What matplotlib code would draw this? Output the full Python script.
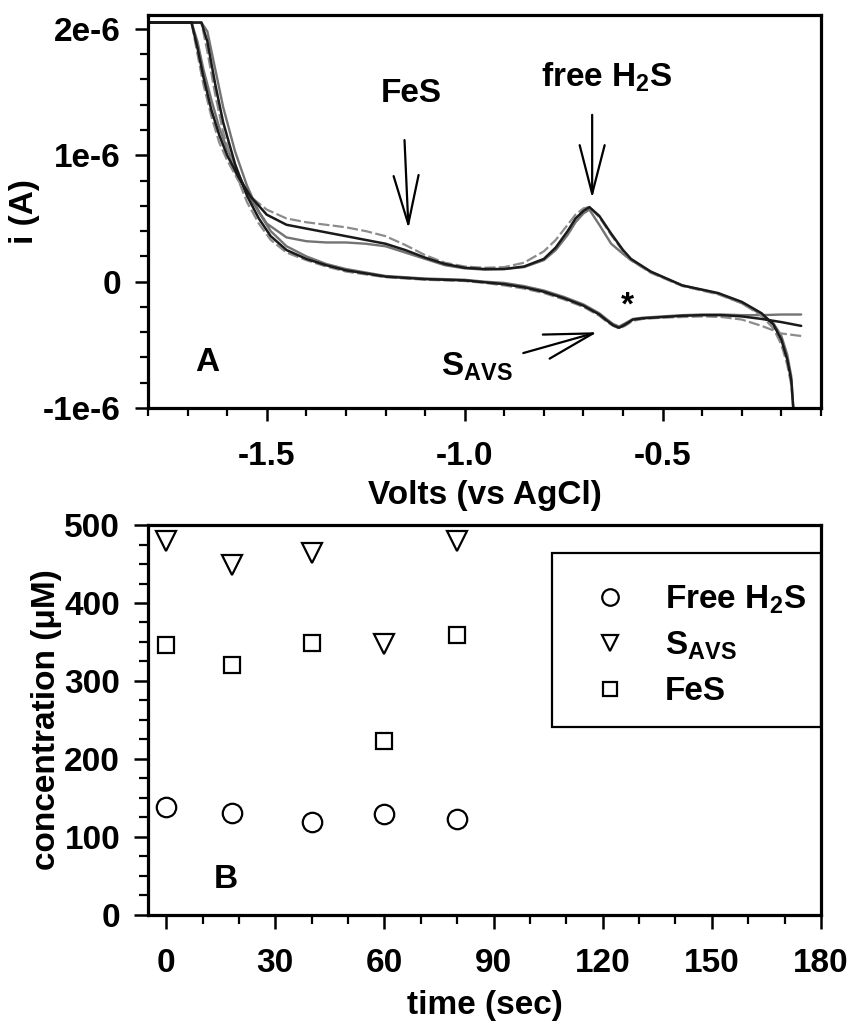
import matplotlib
matplotlib.use("Agg")
import matplotlib.pyplot as plt
from matplotlib.patches import Rectangle
import numpy as np

plt.rcParams['font.family'] = ['Liberation Sans', 'DejaVu Sans']
plt.rcParams['font.weight'] = 'bold'
plt.rcParams['axes.labelweight'] = 'bold'
plt.rcParams['mathtext.fontset'] = 'custom'
plt.rcParams['mathtext.rm'] = 'Liberation Sans:bold'
plt.rcParams['mathtext.it'] = 'Liberation Sans:bold'
plt.rcParams['mathtext.bf'] = 'Liberation Sans:bold'

# ---- panel A: cyclic voltammograms (current in uA) ----
# scan toward negative potential
v_cath = [-0.15, -0.20, -0.25, -0.30, -0.35, -0.40, -0.45, -0.50, -0.55, -0.575,
          -0.595, -0.61, -0.625, -0.64, -0.66, -0.70, -0.75, -0.80, -0.85, -0.90,
          -0.95, -1.00, -1.10, -1.20, -1.30, -1.35, -1.40, -1.45, -1.49, -1.52,
          -1.55, -1.58, -1.61, -1.63, -1.65, -1.665, -1.80]
scan1_cath = [-0.35, -0.32, -0.295, -0.275, -0.265, -0.265, -0.27, -0.28, -0.29, -0.30,
              -0.34, -0.365, -0.345, -0.31, -0.26, -0.19, -0.13, -0.08, -0.045, -0.02,
              -0.005, 0.01, 0.02, 0.04, 0.09, 0.13, 0.18, 0.25, 0.36, 0.50,
              0.68, 0.93, 1.26, 1.56, 1.90, 2.05, 2.05]
scan2_cath = [-0.26, -0.26, -0.265, -0.265, -0.26, -0.26, -0.265, -0.275, -0.285, -0.295,
              -0.33, -0.355, -0.335, -0.30, -0.25, -0.18, -0.12, -0.07, -0.035, -0.01,
              0.00, 0.015, 0.025, 0.045, 0.10, 0.14, 0.20, 0.28, 0.40, 0.55,
              0.76, 1.03, 1.38, 1.68, 1.98, 2.05, 2.05]
scan3_cath = [-0.43, -0.41, -0.35, -0.30, -0.28, -0.275, -0.28, -0.285, -0.295, -0.31,
              -0.35, -0.37, -0.35, -0.32, -0.27, -0.20, -0.14, -0.09, -0.055, -0.03,
              -0.01, 0.005, 0.015, 0.035, 0.08, 0.12, 0.17, 0.23, 0.33, 0.46,
              0.63, 0.87, 1.18, 1.48, 1.82, 2.05, 2.05]

# return scan toward positive potential
v_anod = [-1.80, -1.69, -1.675, -1.66, -1.64, -1.62, -1.60, -1.57, -1.54, -1.50,
          -1.45, -1.40, -1.35, -1.30, -1.25, -1.20, -1.15, -1.10, -1.05, -1.00,
          -0.95, -0.90, -0.85, -0.80, -0.77, -0.74, -0.72, -0.70, -0.685, -0.66,
          -0.63, -0.60, -0.58, -0.55, -0.53, -0.45, -0.36, -0.30, -0.25, -0.22,
          -0.20, -0.185, -0.175, -0.17]
scan1_anod = [2.05, 2.05, 1.85, 1.62, 1.36, 1.16, 1.00, 0.82, 0.67, 0.53,
              0.45, 0.42, 0.39, 0.36, 0.33, 0.30, 0.25, 0.19, 0.14, 0.11,
              0.10, 0.10, 0.12, 0.18, 0.27, 0.40, 0.50, 0.56, 0.59, 0.52,
              0.38, 0.25, 0.18, 0.12, 0.08, -0.03, -0.09, -0.16, -0.25, -0.34,
              -0.46, -0.62, -0.78, -1.00]
scan2_anod = [2.05, 2.05, 1.90, 1.68, 1.44, 1.22, 1.05, 0.84, 0.65, 0.46,
              0.35, 0.32, 0.31, 0.31, 0.30, 0.28, 0.23, 0.18, 0.13, 0.105,
              0.095, 0.10, 0.115, 0.17, 0.25, 0.37, 0.47, 0.54, 0.57, 0.45,
              0.30, 0.22, 0.17, 0.115, 0.075, -0.03, -0.095, -0.17, -0.26, -0.33,
              -0.43, -0.58, -0.75, -1.00]
scan3_anod = [2.05, 2.05, 1.80, 1.56, 1.31, 1.10, 0.96, 0.79, 0.67, 0.57,
              0.50, 0.47, 0.45, 0.43, 0.40, 0.36, 0.29, 0.21, 0.15, 0.12,
              0.11, 0.115, 0.15, 0.24, 0.33, 0.45, 0.53, 0.58, 0.59, 0.51,
              0.37, 0.24, 0.17, 0.11, 0.07, -0.035, -0.10, -0.17, -0.27, -0.37,
              -0.50, -0.66, -0.82, -1.00]

# ---- panel B: concentrations (uM) vs time ----
t_sec = [0, 18, 40, 60, 80]
free_h2s = [139, 131, 119, 129, 123]
s_avs = [480, 449, 464, 348, 479]
fes = [346, 321, 349, 223, 359]

FS = 24

fig = plt.figure(figsize=(8.49, 10.26), dpi=100)
ax1 = fig.add_axes([0.1743, 0.6023, 0.7927, 0.3831])
ax2 = fig.add_axes([0.1743, 0.1082, 0.7927, 0.3801])

scans = [
    (scan2_cath, scan2_anod, dict(color='0.45', lw=1.7, ls='-')),
    (scan3_cath, scan3_anod, dict(color='0.55', lw=1.6, ls=(0, (5, 1.5)))),
    (scan1_cath, scan1_anod, dict(color='0.1', lw=1.8, ls='-')),
]
for cath, anod, style in scans:
    v = np.array(v_cath + v_anod)
    i = np.array(cath + anod) * 1e-6
    ax1.plot(v, i, solid_capstyle='round', **style)

ax1.set_xlim(-1.8, -0.1)
ax1.set_ylim(-1e-6, 2.11e-6)
ax1.set_xticks([-1.5, -1.0, -0.5])
ax1.set_xticklabels(['-1.5', '-1.0', '-0.5'])
ax1.set_xticks(np.arange(-1.8, -0.05, 0.1), minor=True)
ax1.set_yticks([-1e-6, 0, 1e-6, 2e-6])
ax1.set_yticklabels(['-1e-6', '0', '1e-6', '2e-6'])
ax1.set_yticks(np.arange(-1.0, 2.05, 0.2) * 1e-6, minor=True)
ax1.set_xlabel('Volts (vs AgCl)', fontsize=FS, labelpad=6)
ax1.set_ylabel('i (A)', fontsize=FS, labelpad=2)
ax1.tick_params(axis='x', which='major', length=9.5, width=1.8, labelsize=FS, pad=14)
ax1.tick_params(axis='y', which='major', length=9.5, width=1.8, labelsize=FS, pad=10)
ax1.tick_params(which='minor', length=5.5, width=1.6)

arrow_kw = dict(arrowstyle='->,head_length=3.5,head_width=0.9', lw=1.6,
                color='k', shrinkA=0, shrinkB=0, mutation_scale=10)
ax1.annotate('', xy=(-1.142, 0.42e-6), xytext=(-1.152, 1.12e-6), arrowprops=arrow_kw)
ax1.annotate('', xy=(-0.678, 0.66e-6), xytext=(-0.678, 1.32e-6), arrowprops=arrow_kw)
ax1.annotate('', xy=(-0.665, -0.40e-6), xytext=(-0.852, -0.565e-6), arrowprops=arrow_kw)
ax1.text(-1.135, 1.49e-6, 'FeS', fontsize=FS, ha='center', va='center')
ax1.text(-0.642, 1.62e-6, 'free H$_2$S', fontsize=FS, ha='center', va='center')
ax1.text(-0.97, -0.67e-6, 'S$_{AVS}$', fontsize=FS, ha='center', va='center')
ax1.text(-0.589, -0.19e-6, '*', fontsize=FS, ha='center', va='center')
ax1.text(-1.651, -0.637e-6, 'A', fontsize=FS, ha='center', va='center')

marker_kw = dict(ls='none', mfc='white', mec='k', mew=1.6)
ax2.plot(t_sec, free_h2s, marker='o', ms=14, label='Free H$_2$S', **marker_kw)
ax2.plot(t_sec, s_avs, marker='v', ms=14, label='S$_{AVS}$', **marker_kw)
ax2.plot(t_sec, fes, marker='s', ms=12, label='FeS', **marker_kw)

ax2.set_xlim(-5, 180)
ax2.set_ylim(0, 500)
ax2.set_xticks(np.arange(0, 181, 30))
ax2.set_xticks(np.arange(0, 181, 10), minor=True)
ax2.set_yticks(np.arange(0, 501, 100))
ax2.set_yticks(np.arange(0, 501, 25), minor=True)
ax2.set_xlabel('time (sec)', fontsize=FS, labelpad=8)
ax2.set_ylabel('concentration (μM)', fontsize=FS, labelpad=2)
ax2.tick_params(axis='x', which='major', length=10, width=1.8, labelsize=FS, pad=14)
ax2.tick_params(axis='y', which='major', length=10, width=1.8, labelsize=FS, pad=10)
ax2.tick_params(which='minor', length=6.5, width=1.6)
ax2.text(16.5, 46, 'B', fontsize=FS, ha='center', va='center')

ax2.add_patch(Rectangle((0.6, 0.483), 0.4, 0.445, transform=ax2.transAxes,
                        fill=False, lw=1.6, ec='k', zorder=3))
ax2.legend(loc='upper left', bbox_to_anchor=(0.662, 0.85), frameon=False,
           fontsize=FS, markerscale=0.85, handlelength=1.0, handletextpad=1.15,
           labelspacing=0.42, borderpad=0, borderaxespad=0)

for ax in (ax1, ax2):
    for sp in ax.spines.values():
        sp.set_linewidth(2.3)

fig.savefig('out.png', dpi=100)
